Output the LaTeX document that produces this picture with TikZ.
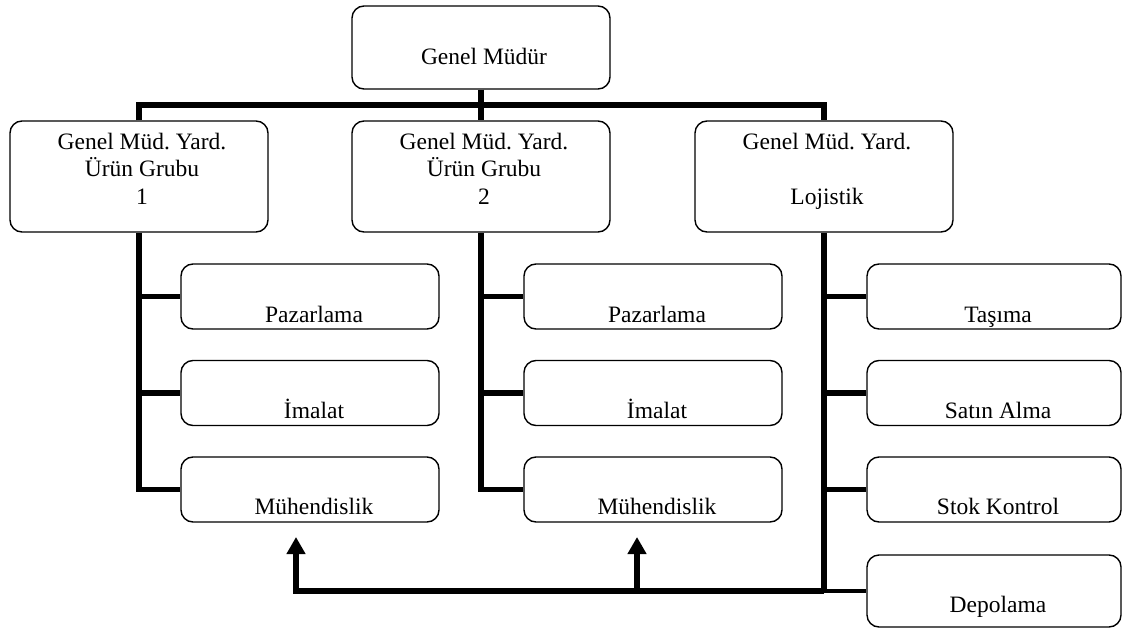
\documentclass[tikz,border=0pt]{standalone}
\usepackage{fontspec}
\setmainfont{Liberation Serif}
\frenchspacing
\usetikzlibrary{arrows.meta}
\tikzset{
  box/.style={draw, rounded corners=12pt, line width=1.4pt, inner sep=0pt, minimum width=258pt},
  txt/.style={anchor=base, inner sep=0pt, font=\fontsize{23.5}{27}\selectfont},
  conn/.style={line width=5.5pt},
  thinconn/.style={line width=4pt},
  heavy/.style={line width=6.5pt},
  uparrow/.style={line width=6.5pt, -{Triangle[width=18pt,length=17pt]}}
}
\begin{document}
\begin{tikzpicture}[x=1pt,y=-1pt]
\useasboundingbox (0,0) rectangle (1123,628);
% top
\node[box, minimum height=83pt] (gm) at (481,47.5) {};
\node[txt] (gmt) at (484,65) {Genel Müdür};
% level 2
\node[box, minimum height=111pt] (g1) at (139,176.5) {};
\node[box, minimum height=111pt] (g2) at (481,176.5) {};
\node[box, minimum height=111pt] (g3) at (824,176.5) {};
\node[txt] (g1a) at (142,150) {Genel Müd. Yard.};
\node[txt] (g1b) at (142,177) {Ürün Grubu};
\node[txt] (g1c) at (142,205) {1};
\node[txt] (g2a) at (484,150) {Genel Müd. Yard.};
\node[txt] (g2b) at (484,177) {Ürün Grubu};
\node[txt] (g2c) at (484,205) {2};
\node[txt] (g3a) at (827,150) {Genel Müd. Yard.};
\node[txt] (g3c) at (827,205) {Lojistik};
% column 1
\node[box, minimum height=65pt] (p1) at (310,296.5) {};
\node[box, minimum height=65pt] (i1) at (310,393) {};
\node[box, minimum height=65pt] (m1) at (310,489.5) {};
\node[txt] (p1t) at (314,322) {Pazarlama};
\node[txt] (i1t) at (314,418) {İmalat};
\node[txt] (m1t) at (314,514) {Mühendislik};
% column 2
\node[box, minimum height=65pt] (p2) at (653,296.5) {};
\node[box, minimum height=65pt] (i2) at (653,393) {};
\node[box, minimum height=65pt] (m2) at (653,489.5) {};
\node[txt] (p2t) at (657,322) {Pazarlama};
\node[txt] (i2t) at (657,418) {İmalat};
\node[txt] (m2t) at (657,514) {Mühendislik};
% column 3
\node[box, minimum width=254pt, minimum height=65pt] (t3) at (994,296.5) {};
\node[box, minimum width=254pt, minimum height=65pt] (s3) at (994,393) {};
\node[box, minimum width=254pt, minimum height=65pt] (k3) at (994,489.5) {};
\node[box, minimum width=254pt, minimum height=72pt] (d3) at (994,591) {};
\node[txt] (t3t) at (998,322) {Taşıma};
\node[txt] (s3t) at (998,418) {Satın Alma};
\node[txt] (k3t) at (998,514) {Stok Kontrol};
\node[txt] (d3t) at (998,612) {Depolama};
% bus
\coordinate (busc) at (481,105);
\draw[conn] (gm.south) -- (g2.north);
\draw[conn] (g1.north) -- (g1.north |- busc) -- (g3.north |- busc) -- (g3.north);
% column 1 connectors
\draw[conn] (g1.south) -- (g1.south |- m1.west) -- (m1.west);
\draw[conn] (g1.south |- p1.west) -- (p1.west);
\draw[conn] (g1.south |- i1.west) -- (i1.west);
% column 2 connectors
\draw[conn] (g2.south) -- (g2.south |- m2.west) -- (m2.west);
\draw[conn] (g2.south |- p2.west) -- (p2.west);
\draw[conn] (g2.south |- i2.west) -- (i2.west);
% column 3 connectors
\coordinate (corner) at (824,591);
\draw[conn] (g3.south) -- (corner);
\draw[conn] (g3.south |- t3.west) -- (t3.west);
\draw[conn] (g3.south |- s3.west) -- (s3.west);
\draw[conn] (g3.south |- k3.west) -- (k3.west);
\draw[thinconn] (corner) -- (d3.west);
% bottom arrows
\coordinate (a1) at (296,537);
\coordinate (a2) at (637,537);
\coordinate (bl) at (296,591);
\draw[uparrow] (corner) -- (bl) -- (a1);
\draw[uparrow] (a2 |- bl) -- (a2);
\end{tikzpicture}
\end{document}
